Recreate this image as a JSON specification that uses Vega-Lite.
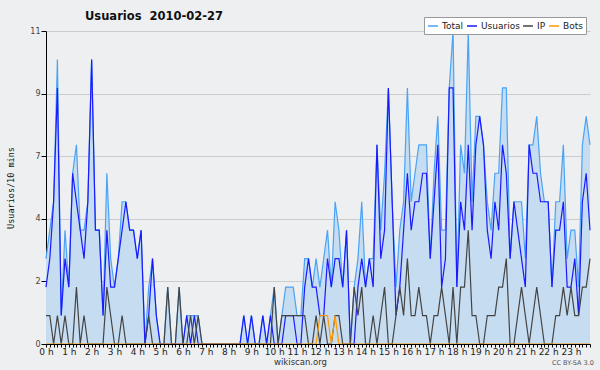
{
  "$schema": "https://vega.github.io/schema/vega-lite/v6.json",
  "width": 544,
  "height": 313,
  "autosize": "none",
  "padding": {"left": 46, "top": 31, "right": 10, "bottom": 26},
  "background": "#eeeff1",
  "config": {"view": {"stroke": null}, "font": "DejaVu Sans"},
  "title": {"text": "Usuarios \u00a02010-02-27", "anchor": "start", "frame": "group", "dx": 39, "offset": -6, "fontSize": 11.5, "fontWeight": "bold", "font": "DejaVu Sans", "color": "#111111"},
  "data": {"values": [
    {"m":0,"Total":3,"Usuarios":2,"IP":1,"Bots":0},
    {"m":10,"Total":4,"Usuarios":3,"IP":1,"Bots":0},
    {"m":20,"Total":5,"Usuarios":5,"IP":0,"Bots":0},
    {"m":30,"Total":10,"Usuarios":9,"IP":1,"Bots":0},
    {"m":40,"Total":1,"Usuarios":1,"IP":0,"Bots":0},
    {"m":50,"Total":4,"Usuarios":3,"IP":1,"Bots":0},
    {"m":60,"Total":2,"Usuarios":2,"IP":0,"Bots":0},
    {"m":70,"Total":6,"Usuarios":6,"IP":0,"Bots":0},
    {"m":80,"Total":7,"Usuarios":5,"IP":2,"Bots":0},
    {"m":90,"Total":4,"Usuarios":4,"IP":0,"Bots":0},
    {"m":100,"Total":4,"Usuarios":3,"IP":1,"Bots":0},
    {"m":110,"Total":5,"Usuarios":5,"IP":0,"Bots":0},
    {"m":120,"Total":10,"Usuarios":10,"IP":0,"Bots":0},
    {"m":130,"Total":4,"Usuarios":4,"IP":0,"Bots":0},
    {"m":140,"Total":4,"Usuarios":4,"IP":0,"Bots":0},
    {"m":150,"Total":1,"Usuarios":1,"IP":0,"Bots":0},
    {"m":160,"Total":6,"Usuarios":4,"IP":2,"Bots":0},
    {"m":170,"Total":3,"Usuarios":2,"IP":1,"Bots":0},
    {"m":180,"Total":2,"Usuarios":2,"IP":0,"Bots":0},
    {"m":190,"Total":3,"Usuarios":3,"IP":0,"Bots":0},
    {"m":200,"Total":5,"Usuarios":4,"IP":1,"Bots":0},
    {"m":210,"Total":5,"Usuarios":5,"IP":0,"Bots":0},
    {"m":220,"Total":4,"Usuarios":4,"IP":0,"Bots":0},
    {"m":230,"Total":4,"Usuarios":4,"IP":0,"Bots":0},
    {"m":240,"Total":3,"Usuarios":3,"IP":0,"Bots":0},
    {"m":250,"Total":4,"Usuarios":4,"IP":0,"Bots":0},
    {"m":260,"Total":0,"Usuarios":0,"IP":0,"Bots":0},
    {"m":270,"Total":2,"Usuarios":1,"IP":1,"Bots":0},
    {"m":280,"Total":3,"Usuarios":3,"IP":0,"Bots":0},
    {"m":290,"Total":1,"Usuarios":1,"IP":0,"Bots":0},
    {"m":300,"Total":0,"Usuarios":0,"IP":0,"Bots":0},
    {"m":310,"Total":0,"Usuarios":0,"IP":0,"Bots":0},
    {"m":320,"Total":2,"Usuarios":0,"IP":2,"Bots":0},
    {"m":330,"Total":0,"Usuarios":0,"IP":0,"Bots":0},
    {"m":340,"Total":0,"Usuarios":0,"IP":0,"Bots":0},
    {"m":350,"Total":2,"Usuarios":0,"IP":2,"Bots":0},
    {"m":360,"Total":0,"Usuarios":0,"IP":0,"Bots":0},
    {"m":370,"Total":1,"Usuarios":1,"IP":0,"Bots":0},
    {"m":380,"Total":1,"Usuarios":0,"IP":1,"Bots":0},
    {"m":390,"Total":1,"Usuarios":1,"IP":0,"Bots":0},
    {"m":400,"Total":1,"Usuarios":0,"IP":1,"Bots":0},
    {"m":410,"Total":0,"Usuarios":0,"IP":0,"Bots":0},
    {"m":420,"Total":0,"Usuarios":0,"IP":0,"Bots":0},
    {"m":430,"Total":0,"Usuarios":0,"IP":0,"Bots":0},
    {"m":440,"Total":0,"Usuarios":0,"IP":0,"Bots":0},
    {"m":450,"Total":0,"Usuarios":0,"IP":0,"Bots":0},
    {"m":460,"Total":0,"Usuarios":0,"IP":0,"Bots":0},
    {"m":470,"Total":0,"Usuarios":0,"IP":0,"Bots":0},
    {"m":480,"Total":0,"Usuarios":0,"IP":0,"Bots":0},
    {"m":490,"Total":0,"Usuarios":0,"IP":0,"Bots":0},
    {"m":500,"Total":0,"Usuarios":0,"IP":0,"Bots":0},
    {"m":510,"Total":0,"Usuarios":0,"IP":0,"Bots":0},
    {"m":520,"Total":1,"Usuarios":1,"IP":0,"Bots":0},
    {"m":530,"Total":0,"Usuarios":0,"IP":0,"Bots":0},
    {"m":540,"Total":1,"Usuarios":1,"IP":0,"Bots":0},
    {"m":550,"Total":0,"Usuarios":0,"IP":0,"Bots":0},
    {"m":560,"Total":0,"Usuarios":0,"IP":0,"Bots":0},
    {"m":570,"Total":1,"Usuarios":1,"IP":0,"Bots":0},
    {"m":580,"Total":0,"Usuarios":0,"IP":0,"Bots":0},
    {"m":590,"Total":1,"Usuarios":1,"IP":0,"Bots":0},
    {"m":600,"Total":2,"Usuarios":0,"IP":2,"Bots":0},
    {"m":610,"Total":0,"Usuarios":0,"IP":0,"Bots":0},
    {"m":620,"Total":1,"Usuarios":0,"IP":1,"Bots":0},
    {"m":630,"Total":2,"Usuarios":1,"IP":1,"Bots":0},
    {"m":640,"Total":2,"Usuarios":1,"IP":1,"Bots":0},
    {"m":650,"Total":2,"Usuarios":1,"IP":1,"Bots":0},
    {"m":660,"Total":1,"Usuarios":0,"IP":1,"Bots":0},
    {"m":670,"Total":1,"Usuarios":0,"IP":1,"Bots":0},
    {"m":680,"Total":3,"Usuarios":2,"IP":1,"Bots":0},
    {"m":690,"Total":3,"Usuarios":3,"IP":0,"Bots":0},
    {"m":700,"Total":2,"Usuarios":2,"IP":0,"Bots":0},
    {"m":710,"Total":3,"Usuarios":2,"IP":1,"Bots":0},
    {"m":720,"Total":2,"Usuarios":1,"IP":0,"Bots":1},
    {"m":730,"Total":3,"Usuarios":1,"IP":1,"Bots":1},
    {"m":740,"Total":4,"Usuarios":3,"IP":0,"Bots":1},
    {"m":750,"Total":2,"Usuarios":2,"IP":0,"Bots":0},
    {"m":760,"Total":5,"Usuarios":3,"IP":1,"Bots":1},
    {"m":770,"Total":4,"Usuarios":3,"IP":1,"Bots":0},
    {"m":780,"Total":2,"Usuarios":2,"IP":0,"Bots":0},
    {"m":790,"Total":4,"Usuarios":4,"IP":0,"Bots":0},
    {"m":800,"Total":0,"Usuarios":0,"IP":0,"Bots":0},
    {"m":810,"Total":2,"Usuarios":0,"IP":2,"Bots":0},
    {"m":820,"Total":3,"Usuarios":2,"IP":1,"Bots":0},
    {"m":830,"Total":5,"Usuarios":3,"IP":2,"Bots":0},
    {"m":840,"Total":2,"Usuarios":2,"IP":0,"Bots":0},
    {"m":850,"Total":3,"Usuarios":3,"IP":0,"Bots":0},
    {"m":860,"Total":3,"Usuarios":2,"IP":1,"Bots":0},
    {"m":870,"Total":7,"Usuarios":7,"IP":0,"Bots":0},
    {"m":880,"Total":4,"Usuarios":3,"IP":1,"Bots":0},
    {"m":890,"Total":6,"Usuarios":4,"IP":2,"Bots":0},
    {"m":900,"Total":9,"Usuarios":9,"IP":0,"Bots":0},
    {"m":910,"Total":5,"Usuarios":5,"IP":0,"Bots":0},
    {"m":920,"Total":2,"Usuarios":1,"IP":1,"Bots":0},
    {"m":930,"Total":4,"Usuarios":2,"IP":2,"Bots":0},
    {"m":940,"Total":5,"Usuarios":4,"IP":1,"Bots":0},
    {"m":950,"Total":9,"Usuarios":6,"IP":3,"Bots":0},
    {"m":960,"Total":5,"Usuarios":4,"IP":1,"Bots":0},
    {"m":970,"Total":6,"Usuarios":5,"IP":1,"Bots":0},
    {"m":980,"Total":7,"Usuarios":5,"IP":2,"Bots":0},
    {"m":990,"Total":7,"Usuarios":6,"IP":1,"Bots":0},
    {"m":1000,"Total":7,"Usuarios":6,"IP":1,"Bots":0},
    {"m":1010,"Total":3,"Usuarios":3,"IP":0,"Bots":0},
    {"m":1020,"Total":6,"Usuarios":5,"IP":1,"Bots":0},
    {"m":1030,"Total":8,"Usuarios":7,"IP":1,"Bots":0},
    {"m":1040,"Total":4,"Usuarios":2,"IP":2,"Bots":0},
    {"m":1050,"Total":4,"Usuarios":3,"IP":1,"Bots":0},
    {"m":1060,"Total":9,"Usuarios":9,"IP":0,"Bots":0},
    {"m":1070,"Total":11,"Usuarios":9,"IP":2,"Bots":0},
    {"m":1080,"Total":2,"Usuarios":2,"IP":0,"Bots":0},
    {"m":1090,"Total":7,"Usuarios":5,"IP":2,"Bots":0},
    {"m":1100,"Total":6,"Usuarios":4,"IP":2,"Bots":0},
    {"m":1110,"Total":11,"Usuarios":7,"IP":4,"Bots":0},
    {"m":1120,"Total":5,"Usuarios":4,"IP":1,"Bots":0},
    {"m":1130,"Total":8,"Usuarios":7,"IP":1,"Bots":0},
    {"m":1140,"Total":8,"Usuarios":8,"IP":0,"Bots":0},
    {"m":1150,"Total":7,"Usuarios":7,"IP":0,"Bots":0},
    {"m":1160,"Total":5,"Usuarios":4,"IP":1,"Bots":0},
    {"m":1170,"Total":4,"Usuarios":3,"IP":1,"Bots":0},
    {"m":1180,"Total":6,"Usuarios":5,"IP":1,"Bots":0},
    {"m":1190,"Total":6,"Usuarios":4,"IP":2,"Bots":0},
    {"m":1200,"Total":9,"Usuarios":7,"IP":2,"Bots":0},
    {"m":1210,"Total":9,"Usuarios":6,"IP":3,"Bots":0},
    {"m":1220,"Total":3,"Usuarios":3,"IP":0,"Bots":0},
    {"m":1230,"Total":5,"Usuarios":5,"IP":0,"Bots":0},
    {"m":1240,"Total":5,"Usuarios":4,"IP":1,"Bots":0},
    {"m":1250,"Total":5,"Usuarios":3,"IP":2,"Bots":0},
    {"m":1260,"Total":3,"Usuarios":2,"IP":1,"Bots":0},
    {"m":1270,"Total":7,"Usuarios":7,"IP":0,"Bots":0},
    {"m":1280,"Total":7,"Usuarios":6,"IP":1,"Bots":0},
    {"m":1290,"Total":8,"Usuarios":6,"IP":2,"Bots":0},
    {"m":1300,"Total":6,"Usuarios":5,"IP":1,"Bots":0},
    {"m":1310,"Total":5,"Usuarios":5,"IP":0,"Bots":0},
    {"m":1320,"Total":5,"Usuarios":5,"IP":0,"Bots":0},
    {"m":1330,"Total":2,"Usuarios":2,"IP":0,"Bots":0},
    {"m":1340,"Total":5,"Usuarios":4,"IP":1,"Bots":0},
    {"m":1350,"Total":5,"Usuarios":4,"IP":1,"Bots":0},
    {"m":1360,"Total":7,"Usuarios":5,"IP":2,"Bots":0},
    {"m":1370,"Total":3,"Usuarios":2,"IP":1,"Bots":0},
    {"m":1380,"Total":4,"Usuarios":2,"IP":2,"Bots":0},
    {"m":1390,"Total":4,"Usuarios":3,"IP":1,"Bots":0},
    {"m":1400,"Total":2,"Usuarios":1,"IP":1,"Bots":0},
    {"m":1410,"Total":7,"Usuarios":5,"IP":2,"Bots":0},
    {"m":1420,"Total":8,"Usuarios":6,"IP":2,"Bots":0},
    {"m":1430,"Total":7,"Usuarios":4,"IP":3,"Bots":0}
  ]},
  "encoding": {
    "x": {
      "field": "m", "type": "quantitative",
      "scale": {"domain": [0, 1430], "nice": false, "zero": false},
      "axis": {
        "title": "wikiscan.org", "titleFontSize": 8.5, "titleFontWeight": "normal", "titleColor": "#333333", "titlePadding": 1, "titleX": 254,
        "tickCount": 143,
        "labelExpr": "datum.value % 60 == 0 ? (datum.value / 60) + ' h' : ''",
        "labelOverlap": false, "labelFlush": false, "labelFontSize": 9, "labelColor": "#222222", "labelPadding": 0,
        "tickSize": 3, "tickColor": "#000000", "domainColor": "#000000", "grid": false, "zindex": 1
      }
    }
  },
  "layer": [
    {
      "mark": {"type": "area", "color": "#c6dcf0", "opacity": 1},
      "encoding": {
        "y": {
          "field": "Total", "type": "quantitative", "title": "Usuarios/10 mins",
          "scale": {"domain": [0, 11], "nice": false, "zero": true},
          "axis": {
            "values": [0, 0.55, 1.1, 1.65, 2.2, 2.75, 3.3, 3.85, 4.4, 4.95, 5.5, 6.05, 6.6, 7.15, 7.7, 8.25, 8.8, 9.35, 9.9, 10.45, 11],
            "labelExpr": "round(datum.value * 100) % 220 == 0 ? format(datum.value, '.0f') : ''",
            "gridOpacity": {"condition": {"test": "round(datum.value * 100) % 220 == 0", "value": 1}, "value": 0},
            "gridColor": "#cccccc", "grid": true,
            "labelOverlap": false, "labelFontSize": 8, "labelColor": "#444444", "labelPadding": 1,
            "tickSize": 5, "tickColor": "#000000", "domainColor": "#000000",
            "titleFont": "DejaVu Sans Mono", "titleFontSize": 8.5, "titleFontWeight": "normal", "titleColor": "#111111", "titlePadding": 14
          }
        }
      }
    },
    {
      "mark": {"type": "line", "strokeWidth": 1.2},
      "encoding": {
        "y": {"field": "Total", "type": "quantitative", "title": "Usuarios/10 mins"},
        "color": {
          "datum": "Total", "type": "nominal",
          "scale": {"domain": ["Total", "Usuarios", "IP", "Bots"], "range": ["#4aa3f5", "#1a1aff", "#444444", "#ff9900"]},
          "legend": {
            "orient": "none", "legendX": 378, "legendY": -14, "direction": "horizontal", "title": null,
            "fillColor": "#ffffff", "strokeColor": "#999999", "padding": 3,
            "symbolType": "stroke", "symbolStrokeWidth": 1.5, "symbolSize": 100,
            "labelFontSize": 9, "labelColor": "#222222", "labelOffset": 3, "columnPadding": 0
          }
        }
      }
    },
    {
      "mark": {"type": "line", "strokeWidth": 1.2},
      "encoding": {
        "y": {"field": "Usuarios", "type": "quantitative", "title": "Usuarios/10 mins"},
        "color": {"datum": "Usuarios", "type": "nominal"}
      }
    },
    {
      "mark": {"type": "line", "strokeWidth": 1.2},
      "encoding": {
        "y": {"field": "IP", "type": "quantitative", "title": "Usuarios/10 mins"},
        "color": {"datum": "IP", "type": "nominal"}
      }
    },
    {
      "mark": {"type": "line", "strokeWidth": 1.2},
      "encoding": {
        "y": {"field": "Bots", "type": "quantitative", "title": "Usuarios/10 mins"},
        "color": {"datum": "Bots", "type": "nominal"}
      }
    },
    {
      "transform": [{"filter": "datum.m == 0"}],
      "mark": {"type": "text", "fontSize": 6.5, "color": "#555555", "align": "center", "baseline": "middle"},
      "encoding": {
        "x": {"datum": 1385, "type": "quantitative"},
        "y": {"datum": -0.67, "type": "quantitative"},
        "text": {"value": "CC BY-SA 3.0"}
      }
    }
  ]
}
